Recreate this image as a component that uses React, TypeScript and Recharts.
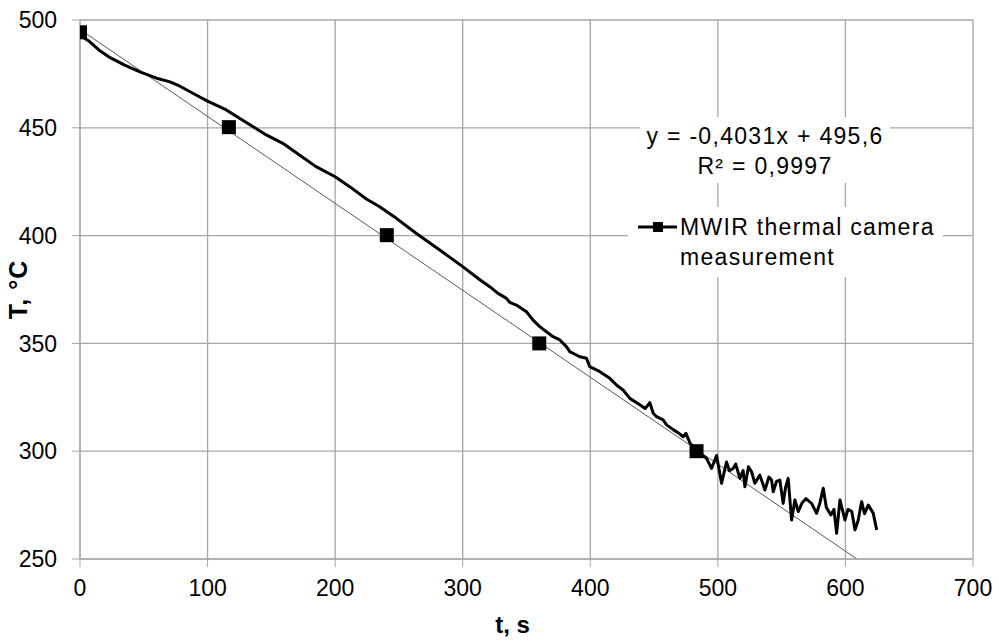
import { ComposedChart, Line, Scatter, XAxis, YAxis, CartesianGrid } from "recharts"

const timeS = [
  0, 3.5, 7.5, 15, 24, 35, 47, 60, 70, 78, 91, 100, 114.7, 125, 146, 159, 172, 185, 200, 211.4,
  224.5, 234.9, 248, 263.7, 282, 300, 313.7, 321.2, 327.7, 334.3, 336.9, 342, 350, 355, 360.4,
  370.8, 376.1, 381.3, 383.9, 391.8, 397, 399.6, 407.5, 415.3, 420.5, 425.7, 431, 438.8, 443,
  446.7, 449.3, 452, 457.1, 459.8, 465, 469, 472.8, 475, 478, 483.3, 487, 491.1, 495, 499,
  502.9, 506.8, 509, 512, 514, 517.3, 519.8, 521.2, 524, 526.4, 529, 532.9, 536.9, 540, 542.1,
  543.4, 546, 548.6, 551.2, 553, 555.1, 557.8, 560.4, 563, 566, 569, 573.5, 577.4, 580, 582.6,
  585, 588.6, 591, 593.1, 595.7, 599.6, 602, 605, 607.5, 610, 612.7, 615, 617.9, 620, 621.8, 624.5,
]
const tempC = [
  494.3, 491.5, 490, 486, 482.4, 479.1, 475.9, 473, 471.4, 469.4, 465.2, 462.4, 458.3, 454.4, 446.7, 442.8, 437.4, 432, 427.3, 422.7,
  417, 413.4, 408, 401, 393.3, 385.6, 379.4, 376.3, 373.2, 370.9, 369, 367.8, 364.7, 360.9, 357.8,
  353.1, 351.6, 348.5, 346.2, 343.8, 343.1, 339.2, 336.9, 333.8, 330.7, 328.4, 324.5, 321.5, 319.8,
  322.5, 317.6, 316, 314.5, 312.2, 310, 308.5, 306.7, 308.3, 304, 300, 298.5, 296.7, 292, 298,
  285.1, 295, 291, 292, 294, 287.4, 291, 283.5, 292.8, 290.5, 285.1, 288.9, 282, 288, 286.6,
  281.2, 286, 286.6, 275.8, 283, 287.4, 268.1, 277.4, 272, 276, 278, 275.8, 271.2, 276, 282.8,
  274, 270.4, 273, 261.9, 277.4, 268.1, 273, 272, 263.5, 268, 276.6, 271, 275, 273, 271.2, 263.5,
]

// square markers on the series
const markerTimeS = [0, 116.7, 240.5, 360, 483.3]
const markerTempC = [494.3, 450.3, 400.2, 350, 300]

// linear trend y = -0,4031x + 495,6, ends at the 250 gridline
const trendTimeS = [0, 609]
const trendTempC = [495.6, 250]

const xTicks = [0, 100, 200, 300, 400, 500, 600, 700]
const yTicks = [250, 300, 350, 400, 450, 500]

const measured = timeS.map((t, i) => ({ t, T: tempC[i] }))
const markers = markerTimeS.map((t, i) => ({ t, T: markerTempC[i] }))
const trend = trendTimeS.map((t, i) => ({ t, T: trendTempC[i] }))

const font = "'Liberation Sans', Arial, sans-serif"
const gridColor = "#a6a6a6"

const Square = (props: any) => <rect x={props.cx - 7} y={props.cy - 7} width={14} height={14} fill="#000" />

const boxText = {
  fontFamily: font,
  fontSize: 23,
  letterSpacing: 1.3,
  lineHeight: "30px",
  color: "#000",
}

export default function App() {
  return (
    <div style={{ position: "relative", width: 999, height: 641, background: "#fff" }}>
      <style>{"body{margin:0}"}</style>
      <ComposedChart width={999} height={641} margin={{ top: 20, right: 26, left: 0, bottom: 0 }}>
        <CartesianGrid stroke={gridColor} strokeWidth={1.3} />
        <XAxis
          type="number"
          dataKey="t"
          domain={[0, 700]}
          ticks={xTicks}
          allowDataOverflow
          height={82}
          tickSize={8}
          tickMargin={13}
          stroke={gridColor}
          tick={{ fill: "#000", fontSize: 23, fontFamily: font }}
          label={{
            value: "t, s",
            position: "insideBottom",
            offset: 8,
            dx: -14,
            style: { fontSize: 24, fontWeight: "bold", fontFamily: font, fill: "#000" },
          }}
        />
        <YAxis
          type="number"
          dataKey="T"
          domain={[250, 500]}
          ticks={yTicks}
          allowDataOverflow
          width={80}
          tickSize={8}
          tickMargin={15}
          stroke={gridColor}
          tick={{ fill: "#000", fontSize: 23, fontFamily: font }}
          label={{
            value: "T, °C",
            angle: -90,
            position: "insideLeft",
            offset: 18,
            style: { textAnchor: "middle", fontSize: 25, letterSpacing: 1, fontWeight: "bold", fontFamily: font, fill: "#000" },
          }}
        />
        <Line data={trend} dataKey="T" type="linear" stroke="#595959" strokeWidth={1} dot={false} isAnimationActive={false} />
        <Line
          data={measured}
          dataKey="T"
          type="linear"
          stroke="#000"
          strokeWidth={3}
          strokeLinejoin="round"
          dot={false}
          isAnimationActive={false}
        />
        <Scatter data={markers} dataKey="T" shape={Square} isAnimationActive={false} />
      </ComposedChart>

      {/* trendline label */}
      <div
        style={{
          ...boxText,
          position: "absolute",
          left: 640,
          top: 117,
          width: 250,
          height: 66,
          boxSizing: "border-box",
          paddingTop: 4,
          background: "#fff",
          textAlign: "center",
        }}
      >
        y = -0,4031x + 495,6
        <br />
        R² = 0,9997
      </div>

      {/* legend */}
      <div
        style={{
          ...boxText,
          position: "absolute",
          left: 628,
          top: 207,
          width: 315,
          height: 70,
          boxSizing: "border-box",
          paddingTop: 5,
          background: "#fff",
        }}
      >
        <svg width={40} height={12} style={{ position: "absolute", left: 10, top: 14 }}>
          <line x1={0} y1={6} x2={39} y2={6} stroke="#000" strokeWidth={3} />
          <rect x={15} y={1} width={10} height={10} fill="#000" />
        </svg>
        <div style={{ marginLeft: 52 }}>
          MWIR thermal camera
          <br />
          measurement
        </div>
      </div>
    </div>
  )
}
